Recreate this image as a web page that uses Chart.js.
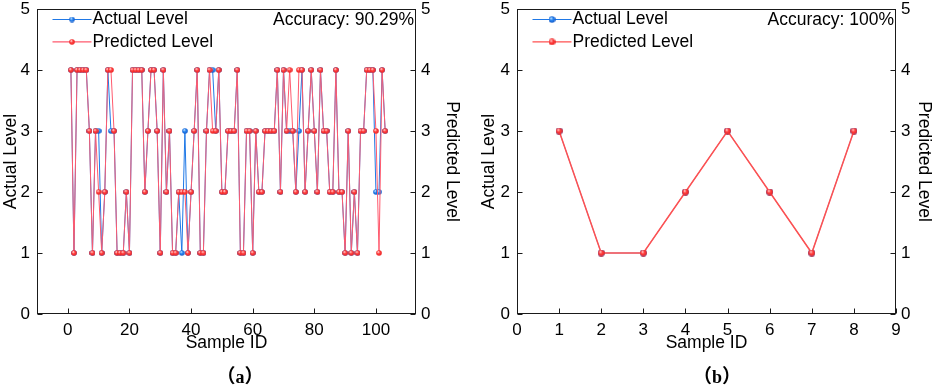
<!DOCTYPE html>
<html><head><meta charset="utf-8">
<script src="https://cdn.jsdelivr.net/npm/chart.js@4/dist/chart.umd.min.js"></script>
<style>
html,body{margin:0;padding:0;background:#fff;width:934px;height:386px;overflow:hidden;}
canvas{position:absolute;top:0;}
#ca{left:0}
#cb{left:467px}
.lab{position:absolute;top:361px;transform:translateX(-50%);font:bold 19px "Noto Sans CJK SC","Liberation Serif",serif;color:#000;white-space:nowrap;}
.lab b{font-family:"Liberation Serif",serif;font-size:18px;}
</style></head><body>
<canvas id="ca" width="467" height="386"></canvas>
<canvas id="cb" width="467" height="386"></canvas>
<div class="lab" style="left:240px">（<b>a</b>）</div>
<div class="lab" style="left:717px">（<b>b</b>）</div>
<script>
// ---------- data: panel (a) ----------
const sampleIdsA = [1,2,3,4,5,6,7,8,9,10,11,12,13,14,15,16,17,18,19,20,21,22,23,24,25,26,27,28,29,30,31,32,33,34,35,36,37,38,39,40,41,42,43,44,45,46,47,48,49,50,51,52,53,54,55,56,57,58,59,60,61,62,63,64,65,66,67,68,69,70,71,72,73,74,75,76,77,78,79,80,81,82,83,84,85,86,87,88,89,90,91,92,93,94,95,96,97,98,99,100,101,102,103];
const actualA = [4,1,4,4,4,4,3,1,3,3,1,2,4,3,3,1,1,1,2,1,4,4,4,4,2,3,4,4,3,1,4,2,3,1,1,2,1,3,1,2,3,4,1,1,3,4,4,3,4,2,2,3,3,3,4,1,1,3,3,1,3,2,2,3,3,3,3,4,2,4,3,3,3,2,3,4,2,3,4,3,2,4,3,3,2,2,4,2,2,1,3,1,2,1,3,3,4,4,4,2,2,4,3];
const predictedA = [4,1,4,4,4,4,3,1,3,2,1,2,4,4,3,1,1,1,2,1,4,4,4,4,2,3,4,4,3,1,4,2,3,1,1,2,2,2,1,2,3,4,1,1,3,4,3,3,4,2,2,3,3,3,4,1,1,3,3,1,3,2,2,3,3,3,3,4,2,4,3,4,3,2,4,4,2,3,4,3,2,4,3,3,2,2,4,2,2,1,3,1,2,1,3,3,4,4,4,3,1,4,3];
const xTicksA = [0,20,40,60,80,100];
const accuracyA = 'Accuracy: 90.29%';
// ---------- data: panel (b) ----------
const sampleIdsB = [1,2,3,4,5,6,7,8];
const actualB = [3,1,1,2,3,2,1,3];
const predictedB = [3,1,1,2,3,2,1,3];
const xTicksB = [0,1,2,3,4,5,6,7,8,9];
const accuracyB = 'Accuracy: 100%';
const yTicks = [0,1,2,3,4,5];
const seriesNames = ['Actual Level','Predicted Level'];

const FONT = '"Liberation Sans", Arial, sans-serif';
function sphere(d, hi, mid, edge){
  const c = document.createElement('canvas'); c.width = c.height = d;
  const g = c.getContext('2d'); const r = d/2;
  const gr = g.createRadialGradient(r*0.7, r*0.6, 0.2, r, r, r);
  gr.addColorStop(0, hi); gr.addColorStop(0.45, mid); gr.addColorStop(1, edge);
  g.fillStyle = gr; g.beginPath(); g.arc(r, r, r-0.2, 0, Math.PI*2); g.fill();
  return c;
}
const redA = sphere(6,'#ffdada','#ff4040','#e82222');
const blueA = sphere(6,'#c6e4ff','#2a86f0','#1258c8');
const redB = sphere(7,'#ffdada','#ff4040','#e82222');
const blueB = sphere(7,'#c6e4ff','#2a86f0','#1258c8');

const framePlugin = {
  id: 'frame',
  afterDraw(chart, args, opts){
    const {ctx, chartArea: a, scales} = chart;
    ctx.save();
    ctx.strokeStyle = '#1a1a1a'; ctx.lineWidth = 1;
    const l = Math.round(a.left)+0.5, t = Math.round(a.top)+0.5, r = Math.round(a.right)-0.5, b = Math.round(a.bottom)-0.5;
    ctx.strokeRect(l, t, r-l, b-t);
    const L = 5;
    ctx.beginPath();
    scales.x.ticks.forEach(tk => { const p = Math.round(scales.x.getPixelForValue(tk.value))+0.5; ctx.moveTo(p, b); ctx.lineTo(p, b-L); });
    scales.y.ticks.forEach(tk => { const p = Math.round(scales.y.getPixelForValue(tk.value))+0.5; ctx.moveTo(l, p); ctx.lineTo(l+L, p); });
    scales.y2.ticks.forEach(tk => { const p = Math.round(scales.y2.getPixelForValue(tk.value))+0.5; ctx.moveTo(r, p); ctx.lineTo(r-L, p); });
    ctx.stroke();
    // legend
    ctx.font = '17.5px ' + FONT; ctx.textBaseline = 'middle'; ctx.fillStyle = '#000';
    chart.data.datasets.forEach((ds, i) => {
      const y = a.top + 10.5 + i*22.4;
      ctx.strokeStyle = ds.borderColor; ctx.lineWidth = 1.2;
      ctx.beginPath(); ctx.moveTo(a.left+15.5, y); ctx.lineTo(a.left+54.5, y); ctx.stroke();
      const img = ds.pointStyle;
      ctx.drawImage(img, a.left+35-img.width/2, y-img.height/2);
      ctx.textAlign = 'left';
      ctx.fillText(ds.label, a.left+55.5, y);
    });
    ctx.textAlign = 'right';
    ctx.fillText(opts.text, a.right-2, a.top+11);
    ctx.restore();
  }
};

function makeChart(id, ids, act, pred, xmin, xmax, xTicks, acc, cfg){
  const axisFont = {family: FONT, size: 17};
  const titleFont = {family: FONT, size: 17.5};
  return new Chart(document.getElementById(id), {
    type: 'line',
    data: {
      datasets: [
        {label: seriesNames[0], data: ids.map((x,i)=>({x, y: act[i]})), borderColor: '#1f78e6', borderWidth: cfg.blueW, pointStyle: cfg.blue, pointRadius: 3, tension: 0, order: 1, yAxisID: 'y'},
        {label: seriesNames[1], data: ids.map((x,i)=>({x, y: pred[i]})), borderColor: cfg.redLine, borderWidth: cfg.redW, pointStyle: cfg.red, pointRadius: 3, tension: 0, order: 0, yAxisID: 'y'}
      ]
    },
    options: {
      responsive: false, animation: false, devicePixelRatio: 1,
      layout: {padding: {top: 9, left: 0, right: 0, bottom: 0}},
      plugins: {legend: {display: false}, tooltip: {enabled: false}, frame: {text: acc}},
      scales: {
        x: {type: 'linear', min: xmin, max: xmax,
            afterBuildTicks: s => { s.ticks = xTicks.map(v => ({value: v})); },
            afterFit: s => { s.height = 72; s.paddingLeft = 0; s.paddingRight = 0; },
            grid: {display: false, drawTicks: false}, border: {display: false},
            ticks: {font: axisFont, color: '#000', padding: 6, maxRotation: 0, autoSkip: false},
            title: {display: true, text: 'Sample ID', font: titleFont, color: '#000', padding: {top: 0, bottom: 32.5}}},
        y: {position: 'left', min: 0, max: 5,
            afterBuildTicks: s => { s.ticks = yTicks.map(v => ({value: v})); },
            afterFit: s => { s.width = cfg.leftW; s.paddingTop = 0; s.paddingBottom = 0; },
            grid: {display: false, drawTicks: false}, border: {display: false},
            ticks: {font: axisFont, color: '#000', padding: 7},
            title: {display: true, text: 'Actual Level', font: titleFont, color: '#000', padding: {top: cfg.leftTP, bottom: 0}}},
        y2: {position: 'right', min: 0, max: 5,
            afterBuildTicks: s => { s.ticks = yTicks.map(v => ({value: v})); },
            afterFit: s => { s.width = cfg.rightW; s.paddingTop = 0; s.paddingBottom = 0; },
            grid: {display: false, drawTicks: false}, border: {display: false},
            ticks: {font: axisFont, color: '#000', padding: 5},
            title: {display: true, text: 'Predicted Level', font: titleFont, color: '#000', padding: {top: cfg.rightTP, bottom: 0}}}
      }
    },
    plugins: [framePlugin]
  });
}

makeChart('ca', sampleIdsA, actualA, predictedA, -10, 113, xTicksA, accuracyA,
  {blue: blueA, red: redA, redLine: '#ff5a6e', redW: 1, blueW: 1, leftW: 37, rightW: 51, leftTP: 0.5, rightTP: 4.5});
makeChart('cb', sampleIdsB, actualB, predictedB, 0, 9, xTicksB, accuracyB,
  {blue: blueB, red: redB, redLine: '#ff5050', redW: 1.5, blueW: 0.6, leftW: 50, rightW: 38, leftTP: 12, rightTP: 0});
</script>
</body></html>
